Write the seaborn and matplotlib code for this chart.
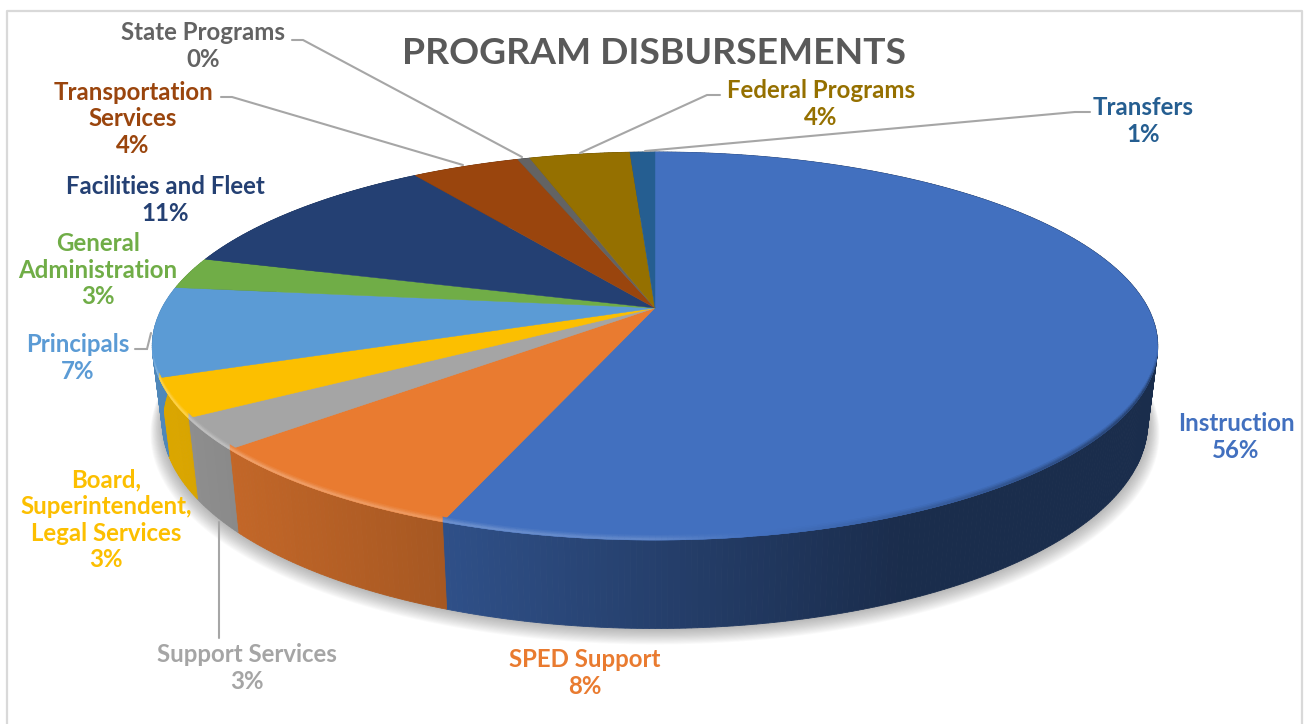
import numpy as np
import matplotlib
matplotlib.use("Agg")
import matplotlib.pyplot as plt
import seaborn as sns

# ── Data ─────────────────────────────────────────────────────
categories = ["Instruction", "SPED Support", "Support Services",
              "Board,\nSuperintendent,\nLegal Services", "Principals",
              "General\nAdministration", "Facilities and Fleet",
              "Transportation\nServices", "State Programs",
              "Federal Programs", "Transfers"]
shares = [55.7, 7.8, 2.6, 3.2, 7.45, 2.65, 11.0, 4.2, 0.48, 3.9, 0.97]
slice_hex = ["#4270BF", "#E97B30", "#A5A5A5", "#FCBF00", "#5B9BD5", "#70AD47",
             "#244073", "#9A450D", "#636363", "#957000", "#255E91"]

# label centres (pixels) and leader lines
label_x = [1236, 585, 247, 106, 78, 98, 165, 133, 203, 821, 1143]
label_y = [437, 673, 668, 520, 358, 270, 200, 119, 46, 104, 121]
leaders = [([292, 303, 522], [40, 40, 157]),
           ([221, 232, 463], [97, 97, 165]),
           ([720, 707, 580], [95, 95, 153]),
           ([1090, 1075, 645], [112, 112, 151]),
           ([135, 147, 151], [349, 349, 333]),
           ([219, 219], [522, 638])]

# ── Pie geometry ─────────────────────────────────────────────
CX, CY = 655, 308
A, B, K = 493, 186.6, 0.196


def project(theta):
    x, y = np.sin(theta), np.cos(theta)
    d = 1 + K * y
    return CX + A * x / d, CY - B * y / d


def drop(px, py):
    # wall bottom for a rim point
    return CX + (px - CX) * 0.98, py + 80 + 0.06 * (py - 400)


def blend(c1, c2, w):
    return tuple(np.array(c1) * (1 - w) + np.array(c2) * w)


sns.set_theme(style="white")
plt.rcParams["font.family"] = ["Lato", "DejaVu Sans"]
palette = sns.color_palette(slice_hex)

fig = plt.figure(figsize=(13.04, 7.24), dpi=100, facecolor="white")
ax = fig.add_axes([0, 0, 1, 1])
ax.set_xlim(0, 1304)
ax.set_ylim(724, 0)
ax.axis("off")

# frame
ax.plot([7, 7, 1302, 1302], [724, 11, 11, 724], color="#D9D9D9", lw=1.6, zorder=1)

edges = np.cumsum([0] + shares) / sum(shares) * 2 * np.pi

# soft shadow under the disc
t_all = np.linspace(0, 2 * np.pi, 400)
bx, by = drop(*project(t_all))
for i in range(16):
    s = 1 + 0.0016 * i
    ax.fill(CX + (bx - CX) * s, 400 + (by - 400) * s + i * 0.7,
            color="#555555", alpha=0.03, lw=0, zorder=2)

# outer wall
for col, t0, t1 in zip(palette, edges[:-1], edges[1:]):
    n = max(3, int((t1 - t0) / 0.01))
    ts = np.linspace(t0, t1, n + 1)
    for a, b in zip(ts[:-1], ts[1:]):
        xa, ya = project(a)
        xb, yb = project(b)
        xa2, ya2 = drop(xa, ya)
        xb2, yb2 = drop(xb, yb)
        f = np.interp((xa + xb) / 2, [170, 448, 900], [0.87, 0.71, 0.40])
        ax.fill([xa, xb, xb2, xa2], [ya, yb, yb2, ya2],
                color=tuple(np.array(col) * f), lw=0.6, zorder=3)

# top face
for col, t0, t1 in zip(palette, edges[:-1], edges[1:]):
    ts = np.linspace(t0, t1, max(3, int((t1 - t0) / 0.01)) + 1)
    px, py = project(ts)
    ax.fill(np.r_[CX, px], np.r_[CY, py], color=col, lw=0.3, zorder=4)

# bevel along the front rim, a few pixels tall
for col, t0, t1 in zip(palette, edges[:-1], edges[1:]):
    ts = np.linspace(t0, t1, max(3, int((t1 - t0) / 0.01)) + 1)
    for a, b in zip(ts[:-1], ts[1:]):
        xm, ym = project((a + b) / 2)
        fade = np.clip((ym - 350) / 30, 0, 1)
        w = np.interp(xm, [155, 650, 950, 1158], [0.3, 0.16, -0.3, -0.7]) * fade
        if abs(w) < 0.005:
            continue
        f = np.interp(xm, [170, 448, 900], [0.87, 0.71, 0.40])
        wall = tuple(np.array(col) * f)
        target = (1, 1, 1) if w > 0 else wall
        qx, qy = project(np.array([a, b]))
        for d0, d1, ww in [(5, 3.5, 0.25), (3.5, 2, 0.6), (2, 0, 1.0)]:
            ax.fill(np.r_[qx, qx[::-1]], np.r_[qy - d1, qy[::-1] - d0],
                    color=blend(col, target, abs(w) * ww), lw=0.3, zorder=5)

# leader lines
for lx, ly in leaders:
    ax.plot(lx, ly, color="#A6A6A6", lw=1.5, zorder=6, solid_joinstyle="miter")

# labels
for name, val, c, x, y in zip(categories, shares, slice_hex, label_x, label_y):
    ax.text(x, y, f"{name}\n{val:.0f}%", color=c, ha="center", va="center",
            fontsize=17.3, fontweight="bold", linespacing=1.18, zorder=7)

ax.text(654, 53, "PROGRAM DISBURSEMENTS", color="#595959", ha="center", va="center",
        fontsize=26.8, fontweight="bold", zorder=7)

sns.despine(ax=ax, left=True, bottom=True)
fig.savefig("out.png", dpi=100)
